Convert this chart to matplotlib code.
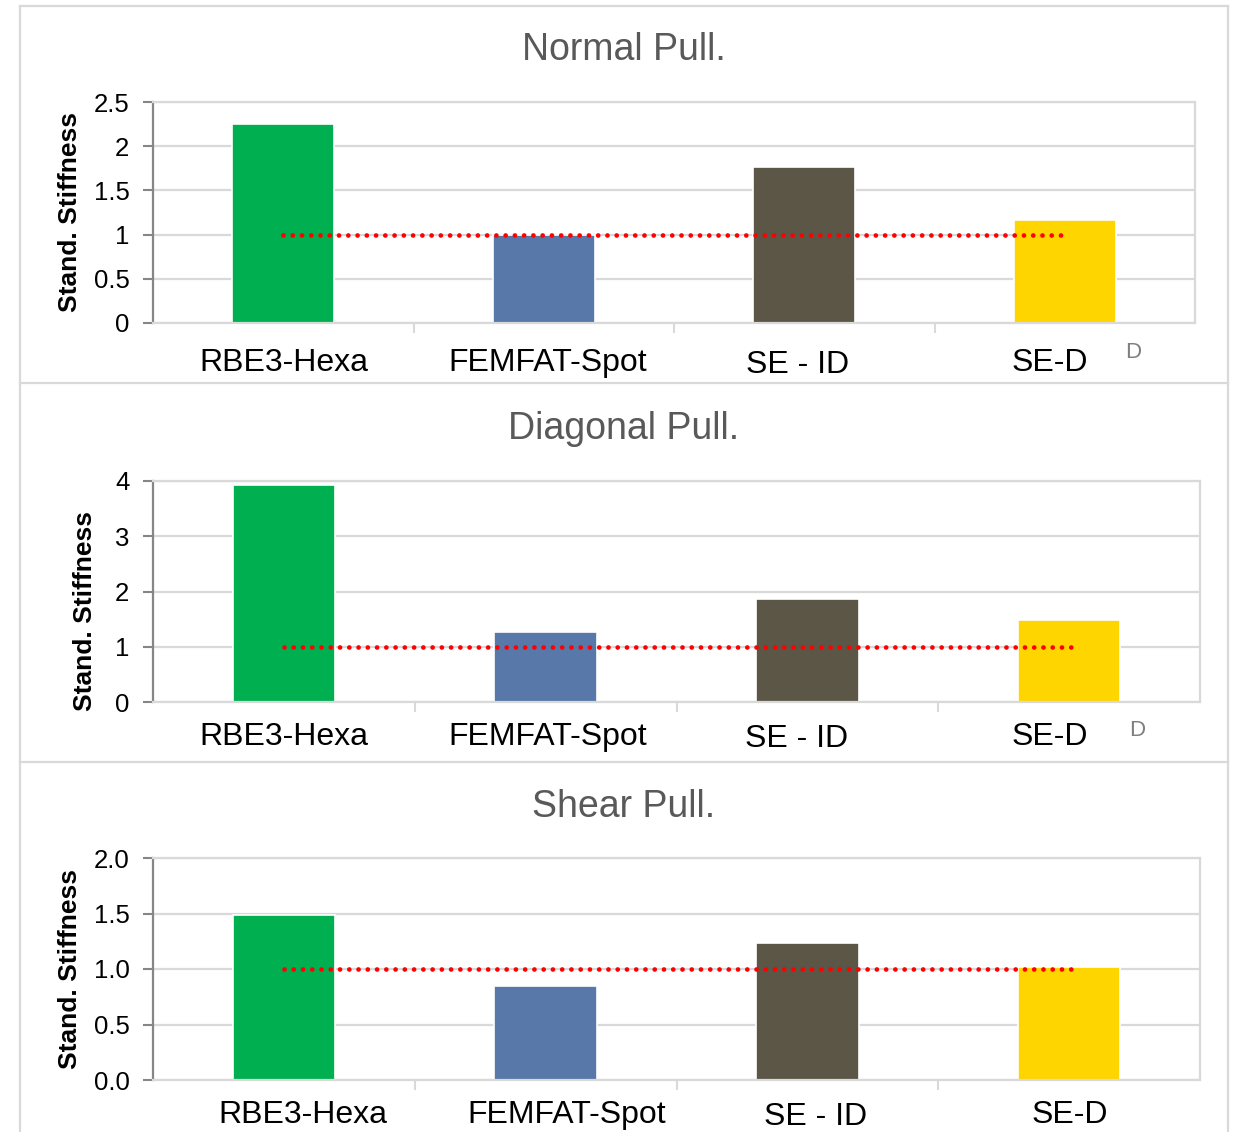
import matplotlib.pyplot as plt
from matplotlib.lines import Line2D
from matplotlib.ticker import FixedLocator, FuncFormatter

plt.rcParams['font.family'] = ['Liberation Sans', 'DejaVu Sans']

CATEGORIES = ['RBE3-Hexa', 'FEMFAT-Spot', 'SE - ID', 'SE-D']
TITLES = ['Normal Pull.', 'Diagonal Pull.', 'Shear Pull.']
NORMAL = [2.25, 1.0, 1.765, 1.165]
DIAGONAL = [3.93, 1.27, 1.86, 1.48]
SHEAR = [1.49, 0.85, 1.23, 1.02]
REFERENCE = 1.0
Y_MAX = [2.5, 4, 2.0]
Y_STEP = [0.5, 1, 0.5]
Y_FMT = ['{:g}', '{:g}', '{:.1f}']

COLORS = ['#00AF50', '#5778A8', '#5B5646', '#FFD500']
GRAY = '#D9D9D9'
W, H = 1238, 1132

fig = plt.figure(figsize=(W / 100, H / 100), dpi=100)


def fx(px):
    return px / W


def fy(py):
    return 1 - py / H


# panel frames
for x0, y0, x1, y1 in [(20, 6, 1228, 6), (20, 6, 20, H), (1228, 6, 1228, H),
                       (20, 383, 1228, 383), (20, 762, 1228, 762)]:
    fig.add_artist(Line2D([fx(x0), fx(x1)], [fy(y0), fy(y1)], color=GRAY, lw=1.6))

# (left, right, top, bottom) in pixels, title y, ylabel x/y, label shifts, label y offset
panels = [
    dict(box=(153, 1195, 102, 323), title_y=50, ylab=(70, 212), line_end=3.0,
         shifts=[1, 4, -7, -15], dy=[40, 40, 42, 40], ghost=(1133, 352)),
    dict(box=(153, 1200, 481, 702), title_y=429, ylab=(85, 611), line_end=3.02,
         shifts=[0, 2, -11, -19], dy=[35, 35, 37, 35], ghost=(1137, 730)),
    dict(box=(153, 1200, 858, 1080), title_y=807, ylab=(70, 969), line_end=3.02,
         shifts=[19, 21, 8, 1], dy=[35, 35, 37, 35], ghost=None),
]

for i, (vals, p) in enumerate(zip([NORMAL, DIAGONAL, SHEAR], panels)):
    l, r, t, b = p['box']
    ax = fig.add_axes([fx(l), fy(b), fx(r - l), (b - t) / H])
    x = list(range(len(CATEGORIES)))
    ax.bar(x, vals, width=0.392, color=COLORS, edgecolor='white', lw=1.2, zorder=2)
    ax.plot([0, p['line_end']], [REFERENCE, REFERENCE], color='#FF0000', lw=3.4,
            dashes=(0.01, 1.95), dash_capstyle='round', zorder=3)

    ax.set_xlim(-0.5, 3.5)
    ax.set_ylim(0, Y_MAX[i])
    n = int(round(Y_MAX[i] / Y_STEP[i]))
    ax.yaxis.set_major_locator(FixedLocator([k * Y_STEP[i] for k in range(n + 1)]))
    fmt = Y_FMT[i]
    ax.yaxis.set_major_formatter(FuncFormatter(lambda v, pos, f=fmt: f.format(v)))
    ax.grid(axis='y', color=GRAY, lw=1.6, zorder=0)
    ax.set_axisbelow(True)
    ax.tick_params(axis='y', length=7, width=1.5, color='#868686', pad=10,
                   labelsize=18.5, labelcolor='black')
    ax.set_xticks([0.5, 1.5, 2.5])
    ax.set_xticklabels([])
    ax.tick_params(axis='x', length=7, width=1.5, color=GRAY)
    for side in ['top', 'right', 'bottom']:
        ax.spines[side].set_color(GRAY)
        ax.spines[side].set_linewidth(1.6)
    ax.spines['left'].set_color('#868686')
    ax.spines['left'].set_linewidth(1.6)

    cw = (r - l) / 4
    for k, name in enumerate(CATEGORIES):
        cx = l + cw * (k + 0.5) + p['shifts'][k]
        fig.text(fx(cx), fy(b + p['dy'][k]), name, ha='center', va='center',
                 fontsize=23, color='black')

    fig.text(fx(624), fy(p['title_y']), TITLES[i], ha='center', va='center',
             fontsize=27, color='#595959')
    fig.text(fx(p['ylab'][0]), fy(p['ylab'][1]), 'Stand. Stiffness', rotation=90,
             ha='center', va='center', fontsize=19, fontweight='bold')
    if p['ghost']:
        gx, gy = p['ghost']
        fig.text(fx(gx), fy(gy), 'D', ha='center', va='center', fontsize=16,
                 color='#7F7F7F')

fig.savefig('out.png', dpi=100)
